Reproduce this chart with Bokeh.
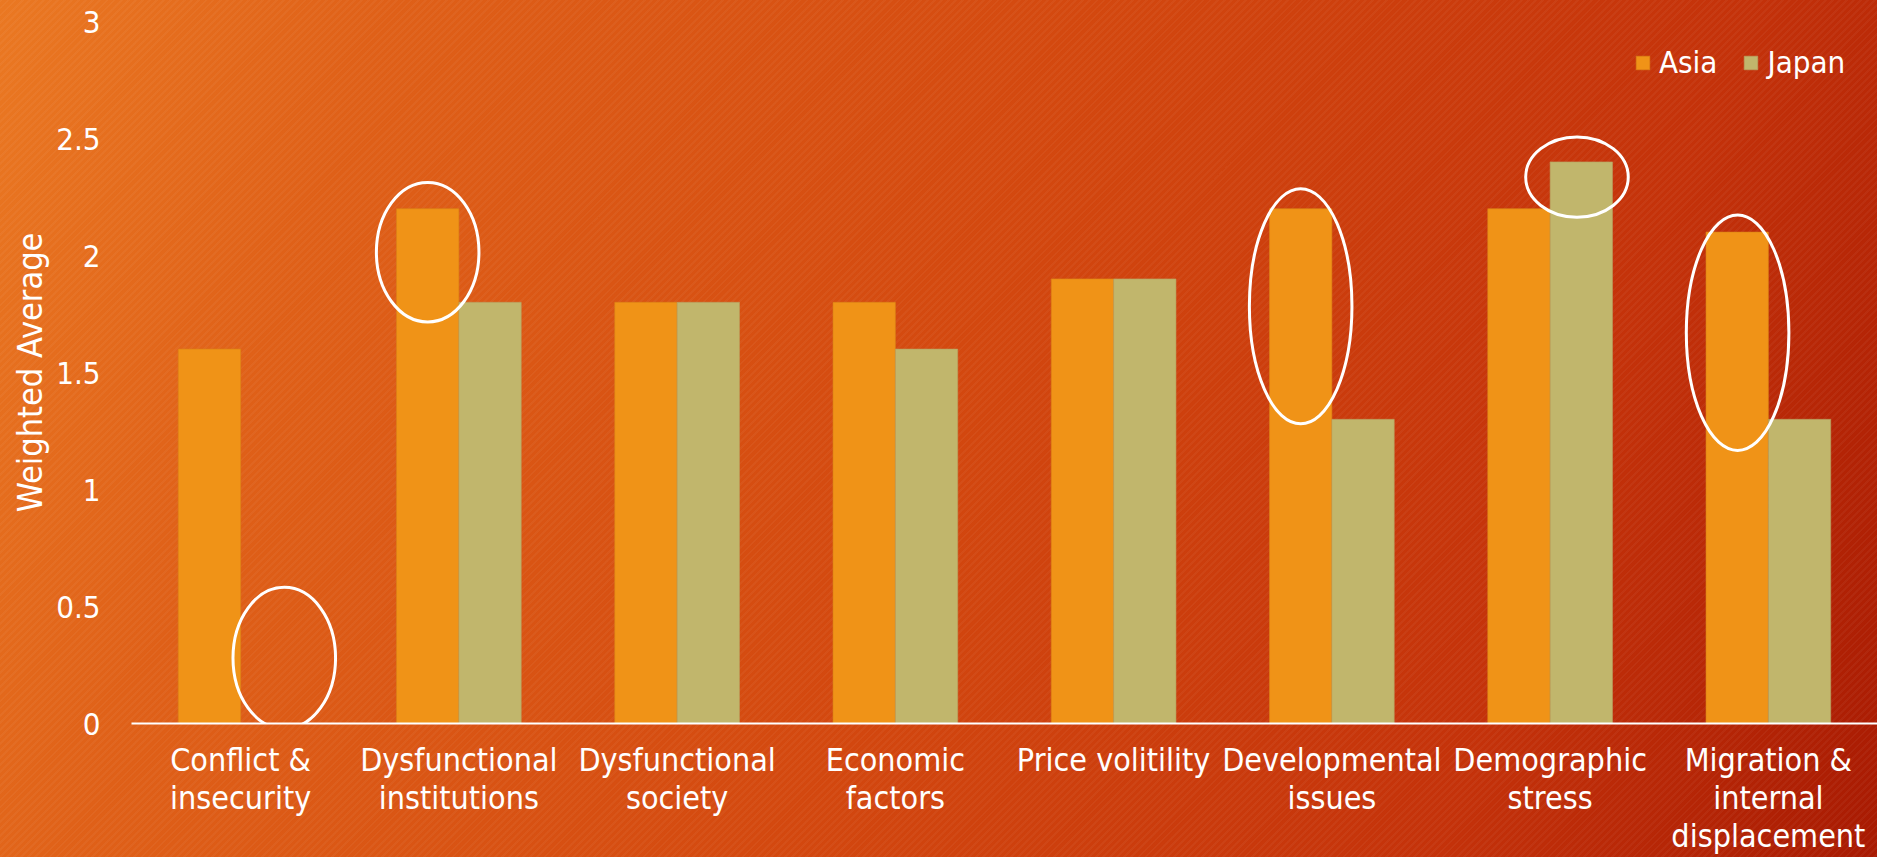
from bokeh.plotting import figure
from bokeh.models import (ColumnDataSource, Range1d, FixedTicker, LinearAxis,
                          Legend, LegendItem, GlobalInlineStyleSheet)
from bokeh.transform import dodge
from bokeh.embed import file_html
from bokeh.resources import INLINE

# ---------------- data ----------------
categories = ["Conflict & insecurity", "Dysfunctional institutions", "Dysfunctional society",
              "Economic factors", "Price volitility", "Developmental issues",
              "Demographic stress", "Migration & internal displacement"]
category_labels = ["Conflict &\ninsecurity", "Dysfunctional\ninstitutions", "Dysfunctional\nsociety",
                   "Economic\nfactors", "Price volitility", "Developmental\nissues",
                   "Demographic\nstress", "Migration &\ninternal\ndisplacement"]
series = ["Asia", "Japan"]
asia = [1.6, 2.2, 1.8, 1.8, 1.9, 2.2, 2.2, 2.1]
japan = [0.0, 1.8, 1.8, 1.6, 1.9, 1.3, 2.4, 1.3]
y_ticks = [0, 0.5, 1, 1.5, 2, 2.5, 3]
y_tick_labels = ["0", "0.5", "1", "1.5", "2", "2.5", "3"]
y_title = "Weighted Average"

# highlight ellipses (category, offset within category, centre value, size)
hl_cats = ["Conflict & insecurity", "Dysfunctional institutions", "Developmental issues",
           "Demographic stress", "Migration & internal displacement"]
hl_dx = [0.20, -0.143, -0.143, 0.123, -0.141]
hl_y = [0.28, 2.014, 1.783, 2.335, 1.67]
hl_w = [0.47, 0.47, 0.47, 0.47, 0.47]
hl_h = [0.604, 0.596, 1.006, 0.344, 1.006]

# ---------------- style ----------------
FONT = "DejaVu Sans Condensed"
ASIA_C = "#F09317"
JAPAN_C = "#C1B66C"

css = """
html {
  height: 100%;
  overflow: hidden;
  background-color: #D24A12;
  background-image:
    repeating-linear-gradient(135deg, rgba(255,255,255,0.04) 0px, rgba(255,255,255,0.04) 2px,
                              rgba(0,0,0,0) 2px, rgba(0,0,0,0) 5px),
    linear-gradient(110deg, #EA7822 0%, #DF6018 18%, #D3480F 50%, #C4320A 80%, #A81A02 100%);
  background-attachment: fixed;
}
body { margin: 0; overflow: hidden; background: transparent; }
"""

# category slots: one unit per category, centred at index + 0.5
cat_pos = [i + 0.5 for i in range(len(categories))]

W, H = 1877, 857
p = figure(width=W, height=H,
           x_range=Range1d(0, len(categories)), y_range=Range1d(0, 3),
           x_axis_location=None,
           output_backend="svg", toolbar_location=None,
           min_border_left=131, min_border_right=0, min_border_top=21, min_border_bottom=0)
p.stylesheets = [GlobalInlineStyleSheet(css=css)]
p.background_fill_alpha = 0
p.border_fill_alpha = 0
p.outline_line_color = None
p.xgrid.grid_line_color = None
p.ygrid.grid_line_color = None

src = ColumnDataSource(dict(pos=cat_pos, cat=categories, asia=asia, japan=japan))
bw = 2 / 7
r_asia = p.vbar(x=dodge("pos", -1 / 7), top="asia", width=bw, source=src,
                fill_color=ASIA_C, line_color="#D98418", line_alpha=0.6, line_width=1)
r_japan = p.vbar(x=dodge("pos", 1 / 7), top="japan", width=bw, source=src,
                 fill_color=JAPAN_C, line_color="#B8A060", line_alpha=0.6, line_width=1)

hl_src = ColumnDataSource(dict(x=[cat_pos[categories.index(c)] + d for c, d in zip(hl_cats, hl_dx)],
                               y=hl_y, w=hl_w, h=hl_h))
p.ellipse(x="x", y="y", width="w", height="h", source=hl_src,
          fill_alpha=0, line_color="white", line_width=3)

# x axis: one stacked axis per text row for the multi-line category labels
label_lines = [lbl.split("\n") for lbl in category_labels]
rows = [[lines[k] if k < len(lines) else "" for lines in label_lines] for k in range(3)]
standoffs = [17, -3, -3]

for k in range(3):
    ax = LinearAxis(ticker=FixedTicker(ticks=cat_pos))
    ax.major_label_overrides = {pos: txt for pos, txt in zip(cat_pos, rows[k])}
    ax.major_tick_line_color = None
    ax.minor_tick_line_color = None
    ax.major_tick_out = 0
    ax.major_tick_in = 0
    ax.major_label_standoff = standoffs[k]
    ax.major_label_text_font = FONT
    ax.major_label_text_font_size = "32px"
    ax.major_label_text_color = "white"
    if k == 0:
        ax.axis_line_color = "white"
        ax.axis_line_width = 2
    else:
        ax.axis_line_color = None
    p.add_layout(ax, "below")

ya = p.yaxis[0]
ya.ticker = FixedTicker(ticks=y_ticks)
ya.major_label_overrides = {t: l for t, l in zip(y_ticks, y_tick_labels)}
ya.axis_line_color = None
ya.major_tick_line_color = None
ya.minor_tick_line_color = None
ya.major_label_standoff = 25
ya.major_label_text_font = FONT
ya.major_label_text_font_size = "31px"
ya.major_label_text_color = "white"
ya.axis_label = y_title
ya.axis_label_text_font = FONT
ya.axis_label_text_font_size = "34px"
ya.axis_label_text_font_style = "normal"
ya.axis_label_text_color = "white"
ya.axis_label_standoff = 3

legend = Legend(items=[LegendItem(label=series[0], renderers=[r_asia]),
                       LegendItem(label=series[1], renderers=[r_japan])],
                orientation="horizontal", location=(1503, 643),
                glyph_width=17, glyph_height=17, label_standoff=8, spacing=25,
                padding=0, margin=0,
                label_text_font=FONT, label_text_font_size="31px", label_text_color="white",
                background_fill_alpha=0, border_line_color=None)
p.add_layout(legend)

open("out.html", "w").write(file_html(p, INLINE))
